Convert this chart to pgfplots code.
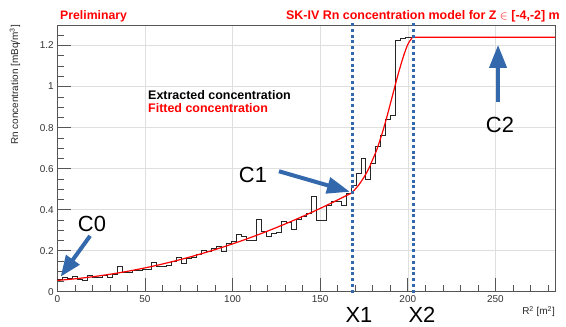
\documentclass[border=0pt]{standalone}
\usepackage{fontspec}
\setmainfont{Liberation Sans}
\usepackage{pgfplots}
\pgfplotsset{compat=1.18}
\usetikzlibrary{arrows.meta}
\definecolor{rootblue}{RGB}{52,104,172}
\definecolor{axgray}{RGB}{85,85,85}
\begin{document}
\begin{tikzpicture}
\path[use as bounding box] (0,0) rectangle (566bp,327bp);
\begin{axis}[
  at={(57.3bp,35.3bp)}, anchor=south west,
  width=497.7bp, height=266.7bp, scale only axis,
  xmin=0, xmax=284, ymin=0, ymax=1.3,
  clip=false,
  axis line style={axgray, line width=0.6bp},
  xtick={0,50,100,150,200,250},
  minor xtick={10,20,30,40,60,70,80,90,110,120,130,140,160,170,180,190,210,220,230,240,260,270,280},
  ytick={0,0.2,0.4,0.6,0.8,1,1.2},
  minor ytick={0.05,0.1,0.15,0.25,0.3,0.35,0.45,0.5,0.55,0.65,0.7,0.75,0.85,0.9,0.95,1.05,1.1,1.15,1.25,1.3},
  xtick pos=bottom, ytick pos=left,
  major tick length=14bp, minor tick length=7bp,
  tick style={axgray, line width=0.6bp},
  grid=major, major grid style={gray!25, line width=0.5bp},
  tick label style={font=\fontsize{10}{12}\selectfont, text=black!80},
  /pgf/number format/assume math mode=true,
  /pgf/number format/fixed,
]
% extracted concentration histogram (bin width 2.84)
\addplot[const plot mark left, black!85, line width=0.8bp] coordinates {
(0,0.058) (2.84,0.070) (5.68,0.066) (8.52,0.074) (11.36,0.060) (14.20,0.055)
(17.04,0.081) (19.88,0.070) (22.72,0.071) (25.56,0.080) (28.40,0.068) (31.24,0.085)
(34.08,0.124) (36.92,0.093) (39.76,0.094) (42.60,0.102) (45.44,0.103) (48.28,0.109)
(51.12,0.110) (53.96,0.141) (56.80,0.125) (59.64,0.125) (62.48,0.127) (65.32,0.150)
(68.16,0.166) (71.00,0.138) (73.84,0.160) (76.68,0.168) (79.52,0.180) (82.36,0.200)
(85.20,0.195) (88.04,0.212) (90.88,0.220) (93.72,0.195) (96.56,0.236) (99.40,0.245)
(102.24,0.280) (105.08,0.270) (107.92,0.252) (110.76,0.250) (113.60,0.350) (116.44,0.293)
(119.28,0.270) (122.12,0.285) (124.96,0.290) (127.80,0.341) (130.64,0.338) (133.48,0.304)
(136.32,0.353) (139.16,0.366) (142.00,0.382) (144.84,0.463) (147.68,0.346) (150.52,0.346)
(153.36,0.423) (156.20,0.440) (159.04,0.440) (161.88,0.420) (164.72,0.480) (167.56,0.520)
(170.40,0.578) (173.24,0.650) (176.08,0.548) (178.92,0.626) (181.76,0.710) (184.60,0.760)
(187.44,0.840) (190.28,0.857) (193.12,1.224) (195.96,1.236) (198.80,1.240) (284,1.240)
};
% fitted concentration
\addplot[red, line width=1.2bp, smooth] coordinates {
(0,0.055) (10,0.0627) (20,0.0727) (30,0.0849) (40,0.0993) (50,0.116) (60,0.1349)
(70,0.1561) (80,0.1795) (90,0.2051) (100,0.233) (110,0.2631) (120,0.2955) (130,0.3301)
(140,0.3669) (150,0.406) (160,0.4473) (165,0.4688) (168,0.482) (170,0.500) (172,0.520)
(174,0.545) (176,0.572) (178,0.605) (180,0.645) (182,0.685) (184,0.735) (186,0.790)
(188,0.850) (190,0.915) (192,0.980) (194,1.045) (196,1.105) (198,1.160) (200,1.205)
(202,1.232) (204,1.240) (220,1.240) (250,1.240) (284,1.240)
};
% X1, X2 dotted lines
\draw[rootblue, line width=3bp, dash pattern=on 3bp off 2.8bp] (axis cs:168.2,-0.005) -- (axis cs:168.2,1.323);
\draw[rootblue, line width=3bp, dash pattern=on 3bp off 2.8bp] (axis cs:203.4,-0.005) -- (axis cs:203.4,1.323);
% arrows
\draw[rootblue, line width=4bp, -{Triangle[length=21bp,width=16bp]}] (axis cs:18.7,0.272) -- (axis cs:1.9,0.073);
\draw[rootblue, line width=4bp, -{Triangle[length=23bp,width=16bp]}] (axis cs:126.5,0.587) -- (axis cs:167,0.487);
\draw[rootblue, line width=4bp, -{Triangle[length=23bp,width=17bp]}] (axis cs:251.5,0.925) -- (axis cs:251.5,1.203);
\end{axis}
% titles and labels
\node[anchor=west, text=red, font=\fontsize{12.3}{14}\selectfont\bfseries, inner sep=0pt] at (60bp,310.5bp) {Preliminary};
\node[anchor=east, text=red, font=\fontsize{12.5}{14}\selectfont\bfseries, inner sep=0pt] at (560bp,310.5bp) {SK-IV Rn concentration model for Z $\in$ [-4,-2] m};
\node[anchor=west, text=black, font=\fontsize{12.5}{14}\selectfont\bfseries, inner sep=0pt] at (148bp,232bp) {Extracted concentration};
\node[anchor=west, text=red, font=\fontsize{12.5}{14}\selectfont\bfseries, inner sep=0pt] at (148bp,218.5bp) {Fitted concentration};
\node[rotate=90, anchor=east, font=\fontsize{10}{12}\selectfont, text=black!85, inner sep=0pt] at (15bp,302bp) {Rn concentration [mBq/m\textsuperscript{3}]};
\node[anchor=east, font=\fontsize{10}{12}\selectfont, text=black!85, inner sep=0pt] at (555bp,15.5bp) {R\textsuperscript{2} [m\textsuperscript{2}]};
\node[font=\fontsize{22}{24}\selectfont, inner sep=0pt] at (92bp,103bp) {C0};
\node[font=\fontsize{22}{24}\selectfont, inner sep=0pt] at (253bp,152bp) {C1};
\node[font=\fontsize{22}{24}\selectfont, inner sep=0pt] at (500bp,202bp) {C2};
\node[font=\fontsize{22}{24}\selectfont, inner sep=0pt] at (359bp,12bp) {X1};
\node[font=\fontsize{22}{24}\selectfont, inner sep=0pt] at (422bp,12bp) {X2};
\end{tikzpicture}
\end{document}
